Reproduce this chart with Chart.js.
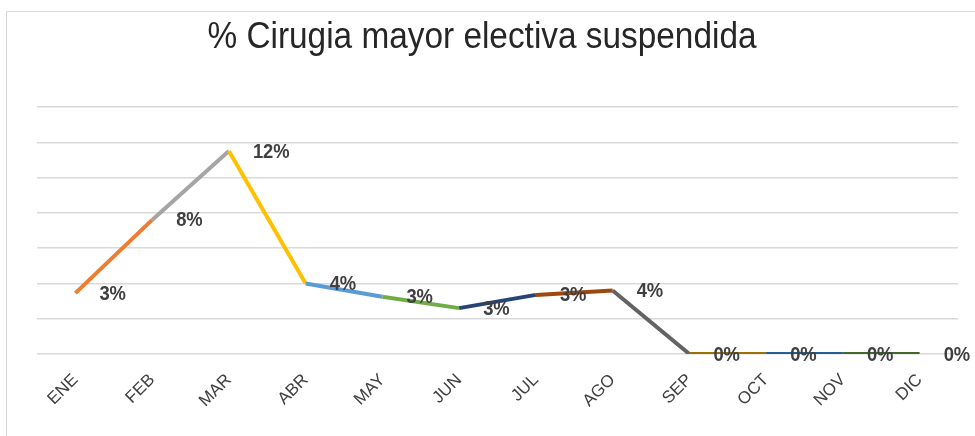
<!DOCTYPE html>
<html>
<head>
<meta charset="utf-8">
<script src="https://cdn.jsdelivr.net/npm/chart.js@4"></script>
<style>
    html, body { margin: 0; padding: 0; background: #fff; }
    #wrap { position: relative; width: 975px; height: 436px; }
    #frame { position: absolute; left: 6px; top: 11px; width: 980px; height: 440px; border: 1px solid #d9d9d9; }
    canvas { position: absolute; left: 0; top: 0; }
</style>
</head>
<body>
<div id="wrap">
    <div id="frame"></div>
    <canvas id="chart" width="975" height="436"></canvas>
</div>
<script>
// Data
const months = ['ENE', 'FEB', 'MAR', 'ABR', 'MAY', 'JUN', 'JUL', 'AGO', 'SEP', 'OCT', 'NOV', 'DIC'];
const pctSuspended = [3.45, 7.6, 11.5, 4.0, 3.25, 2.6, 3.35, 3.6, 0, 0, 0, 0];
// Excel "vary colors by point" palette, one per month
const pointColors = ['#4472C4', '#ED7D31', '#A5A5A5', '#FFC000', '#5B9BD5', '#70AD47',
                     '#264478', '#9E480E', '#636363', '#997300', '#255E91', '#43682B'];

const TITLE_TEXT = '% Cirugia mayor electiva suspendida';
const FONT_FAMILY = '"Liberation Sans", Arial, sans-serif';

// Condensed title, squeezed horizontally like the original
const condensedTitle = {
    id: 'condensedTitle',
    afterDraw(chart) {
        const { ctx } = chart;
        ctx.save();
        ctx.font = `36px ${FONT_FAMILY}`;
        ctx.fillStyle = '#262626';
        ctx.textAlign = 'center';
        ctx.textBaseline = 'alphabetic';
        const w = ctx.measureText(TITLE_TEXT).width;
        const sx = 549 / w;
        ctx.translate(482, 48);
        ctx.scale(sx, 1);
        ctx.fillText(TITLE_TEXT, 0, 0);
        ctx.restore();
    }
};

// Draws the "3%" style labels to the right of each point
const pointLabels = {
    id: 'pointLabels',
    afterDatasetsDraw(chart) {
        const { ctx } = chart;
        const meta = chart.getDatasetMeta(0);
        const values = chart.data.datasets[0].data;
        ctx.save();
        ctx.font = `bold 20px ${FONT_FAMILY}`;
        ctx.fillStyle = '#404040';
        ctx.textAlign = 'left';
        ctx.textBaseline = 'middle';
        meta.data.forEach((pt, i) => {
            ctx.save();
            ctx.translate(pt.x + 24, pt.y + 1);
            ctx.scale(0.92, 1);
            ctx.fillText(`${Math.round(values[i])}%`, 0, 0);
            ctx.restore();
        });
        ctx.restore();
    }
};

new Chart(document.getElementById('chart'), {
    type: 'line',
    data: {
        labels: months,
        datasets: [{
            data: pctSuspended,
            borderWidth: 4,
            tension: 0,
            pointRadius: 0,
            segment: {
                borderColor: (c) => pointColors[c.p1DataIndex]
            }
        }]
    },
    options: {
        responsive: false,
        animation: false,
        layout: {
            padding: { left: 37, right: 17, top: 107, bottom: 6 }
        },
        plugins: {
            legend: { display: false },
            tooltip: { enabled: false },
            title: { display: false }
        },
        scales: {
            x: {
                offset: true,
                grid: { display: false },
                border: { display: false },
                ticks: {
                    minRotation: 45,
                    maxRotation: 45,
                    color: '#404040',
                    padding: 8,
                    font: { family: FONT_FAMILY, size: 17 }
                },
                afterFit: (scale) => { scale.height = 76; }
            },
            y: {
                min: 0,
                max: 14,
                ticks: { display: false, stepSize: 2 },
                grid: { color: '#d9d9d9', lineWidth: 1.5, drawTicks: false },
                border: { display: false },
                afterFit: (scale) => { scale.width = 0; }
            }
        }
    },
    plugins: [pointLabels, condensedTitle]
});
</script>
</body>
</html>
